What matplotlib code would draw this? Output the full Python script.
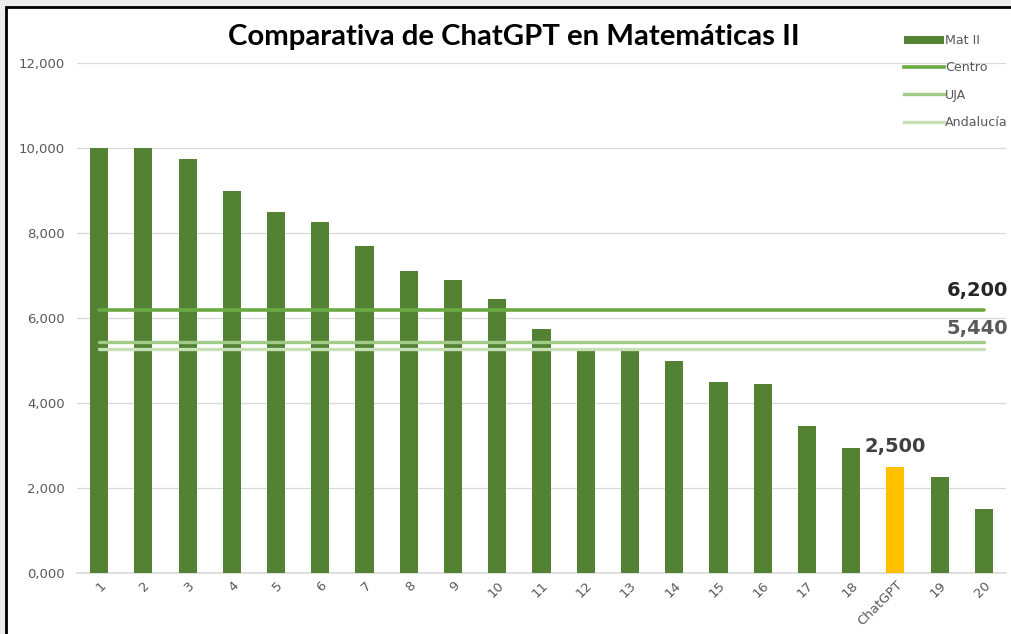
import matplotlib
matplotlib.use("Agg")
import matplotlib.pyplot as plt
from matplotlib.patches import Rectangle, Patch
from matplotlib.lines import Line2D

categories = ["1", "2", "3", "4", "5", "6", "7", "8", "9", "10", "11", "12",
              "13", "14", "15", "16", "17", "18", "ChatGPT", "19", "20"]
mat_ii = [10.0, 10.0, 9.75, 9.0, 8.5, 8.25, 7.7, 7.1, 6.9, 6.45, 5.75, 5.25,
          5.25, 5.0, 4.5, 4.45, 3.45, 2.95, 2.5, 2.25, 1.5]
centro = 6.2
uja = 5.44
andalucia = 5.28
y_ticks = [0, 2, 4, 6, 8, 10, 12]

def fmt(v):
    return f"{v:,.3f}".replace(".", ",")

W, H = 1011, 634
fig = plt.figure(figsize=(W / 100, H / 100), dpi=100)
fig.patch.set_facecolor("#EDEDED")

# white canvas with black frame on left/top
fig.patches.append(Rectangle((6 / W, -0.01), 1.02, 1 - 7 / H + 0.01,
                             transform=fig.transFigure, facecolor="white",
                             edgecolor="black", linewidth=2.0, zorder=-5))

ax = fig.add_axes([77 / W, 61 / H, (1006 - 77) / W, (573 - 63) / H])
ax.set_zorder(2)
ax.set_facecolor("none")
n = len(categories)
x = list(range(n))
colors = ["#FFC000" if c == "ChatGPT" else "#548235" for c in categories]
ax.bar(x, mat_ii, width=0.41, color=colors, zorder=3)

ax.plot([0, n - 1], [andalucia, andalucia], color="#C5E0B4", lw=2.4, zorder=4,
        solid_capstyle="round")
ax.plot([0, n - 1], [uja, uja], color="#A3CB88", lw=2.4, zorder=4,
        solid_capstyle="round")
ax.plot([0, n - 1], [centro, centro], color="#6BAA42", lw=2.6, zorder=4,
        solid_capstyle="round")

ax.set_xlim(-0.5, n - 0.5)
ax.set_ylim(0, 12)
ax.set_yticks(y_ticks)
ax.set_yticklabels([fmt(v) for v in y_ticks])
ax.set_xticks(x)
ax.set_xticklabels(categories, rotation=45, ha="right", rotation_mode="anchor")
ax.tick_params(axis="both", length=0, labelcolor="#595959", labelsize=9.5)
ax.tick_params(axis="y", pad=9)
ax.tick_params(axis="x", pad=4)
ax.grid(axis="y", color="#D9D9D9", lw=0.9, zorder=1)
for s in ["top", "right", "left"]:
    ax.spines[s].set_visible(False)
ax.spines["bottom"].set_color("#D9D9D9")
ax.spines["bottom"].set_linewidth(1.2)

# value labels
ax.text(n - 0.45, centro + 0.22, fmt(centro), ha="right", va="bottom",
        fontsize=14, fontweight="bold", color="#262626")
ax.text(n - 0.45, uja + 0.1, fmt(uja), ha="right", va="bottom",
        fontsize=14, fontweight="bold", color="#595959")
ci = categories.index("ChatGPT")
ax.text(ci, mat_ii[ci] + 0.25, fmt(mat_ii[ci]), ha="center", va="bottom",
        fontsize=14, fontweight="bold", color="#404040")

fig.text(514 / W, 1 - 37 / H, "Comparativa de ChatGPT en Matemáticas II",
         ha="center", va="center", fontsize=21.2, fontweight="bold",
         color="black", family="Lato")

handles = [Patch(facecolor="#548235"),
           Line2D([], [], color="#6BAA42", lw=2.6),
           Line2D([], [], color="#A3CB88", lw=2.4),
           Line2D([], [], color="#C5E0B4", lw=2.4)]
labels = ["Mat II", "Centro", "UJA", "Andalucía"]
leg = fig.legend(handles, labels, loc="upper left",
                 bbox_to_anchor=(898 / W, 1 - 28 / H), frameon=False,
                 fontsize=9.1, labelcolor="#595959", handlelength=3.1,
                 handleheight=0.6, handletextpad=0.12, labelspacing=1.12,
                 borderpad=0)

fig.savefig("out.png", dpi=100)
